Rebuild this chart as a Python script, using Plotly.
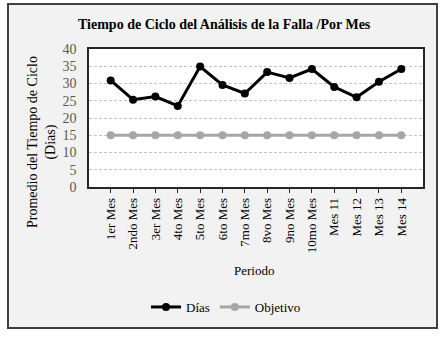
import plotly.graph_objects as go

categories = ["1er Mes", "2ndo Mes", "3er Mes", "4to Mes", "5to Mes", "6to Mes", "7mo Mes",
              "8vo Mes", "9no Mes", "10mo Mes", "Mes 11", "Mes 12", "Mes 13", "Mes 14"]
dias = [30.9, 25.3, 26.2, 23.5, 34.9, 29.6, 27.1, 33.3, 31.6, 34.2, 29.0, 26.0, 30.5, 34.2]
objetivo = [15] * 14
y_ticks = [0, 5, 10, 15, 20, 25, 30, 35, 40]

W, H = 444, 339
L, R, T, B = 89, 423, 49, 187
pw, ph = R - L, B - T

def px(x):
    return (x - L) / pw

def py(y):
    return (B - y) / ph

font = "Liberation Serif, Times New Roman, serif"

fig = go.Figure()
fig.add_trace(go.Scatter(x=categories, y=dias, name="Días", mode="lines+markers",
                         line=dict(color="black", width=3),
                         marker=dict(color="black", size=8)))
fig.add_trace(go.Scatter(x=categories, y=objetivo, name="Objetivo", mode="lines+markers",
                         line=dict(color="#a6a6a6", width=3),
                         marker=dict(color="#a6a6a6", size=8)))

fig.update_layout(
    width=W, height=H,
    margin=dict(l=L, r=W - R, t=T, b=H - B, pad=0),
    paper_bgcolor="white",
    plot_bgcolor="rgba(0,0,0,0)",
    font=dict(family=font, color="black", size=13),
    showlegend=True,
    legend=dict(orientation="h", x=px(226), y=py(307), xanchor="center", yanchor="middle",
                font=dict(family=font, size=13, color="black"), bgcolor="rgba(0,0,0,0)",
                itemwidth=30, tracegroupgap=0),
    xaxis=dict(type="category", tickangle=-90, showgrid=False,
               showline=True, mirror=True, linecolor="#262626", linewidth=1.5,
               ticks="outside", ticklen=4, tickcolor="#262626", tickwidth=1,
               tickfont=dict(family=font, size=13, color="black"), zeroline=False),
    yaxis=dict(range=[0, 40], tickvals=y_ticks, showgrid=True, gridcolor="#c4c4c4",
               griddash="3px,2px", gridwidth=1,
               showline=True, mirror=True, linecolor="#262626", linewidth=1.5,
               zeroline=False, ticks="", ticklabelstandoff=8,
               tickfont=dict(family=font, size=14, color="#595959")),
)

# outer frame and plot area background
fig.add_shape(type="rect", xref="paper", yref="paper", layer="below",
              x0=px(8), x1=px(437), y0=py(328), y1=py(4),
              fillcolor="#f2f2f2", line=dict(color="#404040", width=2))
fig.add_shape(type="rect", xref="paper", yref="paper", layer="below",
              x0=0, x1=1, y0=0, y1=1, fillcolor="white", line=dict(width=0))

fig.add_annotation(text="<b>Tiempo de Ciclo del Análisis de la Falla /Por Mes</b>",
                   xref="paper", yref="paper", x=px(224), y=py(24), showarrow=False,
                   xanchor="center", yanchor="middle",
                   font=dict(family=font, size=14, color="black"))
fig.add_annotation(text="Promedio del Tiempo de Ciclo<br>(Dias)",
                   xref="paper", yref="paper", x=px(42), y=py(142), showarrow=False,
                   xanchor="center", yanchor="middle", textangle=-90,
                   font=dict(family=font, size=14, color="black"))
fig.add_annotation(text="Periodo", xref="paper", yref="paper", x=px(254), y=py(270),
                   showarrow=False, xanchor="center", yanchor="middle",
                   font=dict(family=font, size=13, color="black"))

fig.write_html("out.html", config={"displayModeBar": False},
               post_script="document.body.style.margin='0';")
